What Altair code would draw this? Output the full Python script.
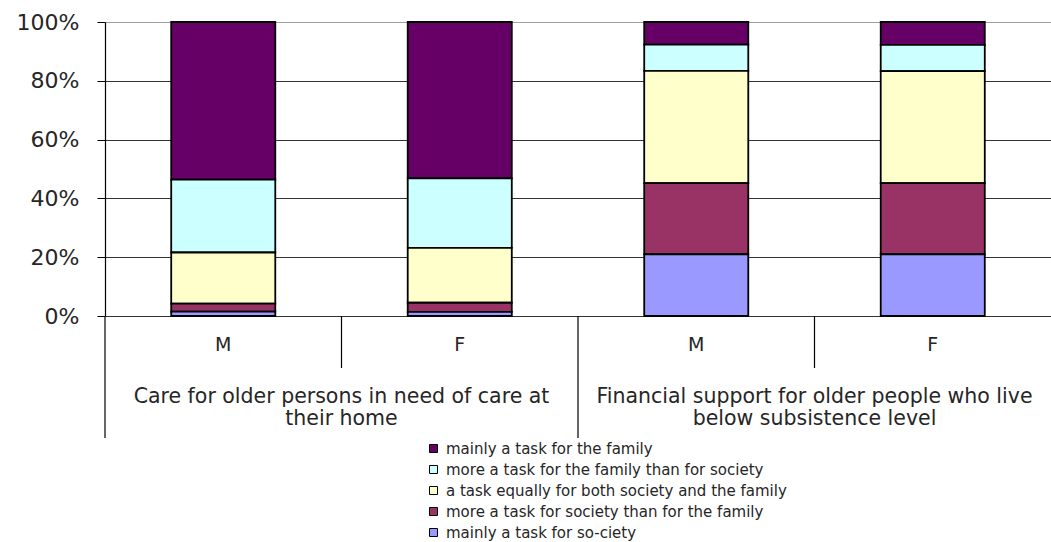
import altair as alt
import pandas as pd

# ---- data ----
bar_keys = ["Care-M", "Care-F", "Fin-M", "Fin-F"]
sex_labels = ["M", "F", "M", "F"]
group_labels = [
    "Care for older persons in need of care at\ntheir home",
    "Financial support for older people who live\nbelow subsistence level",
]
answers = [
    "mainly a task for the family",
    "more a task for the family than for society",
    "a task equally for both society and the family",
    "more a task for society than for the family",
    "mainly a task for so-ciety",
]
colors = ["#660066", "#CCFFFF", "#FFFFCC", "#993366", "#9999FF"]

# percentages per answer, one value per bar (Care-M, Care-F, Fin-M, Fin-F)
mainly_family = [53.6, 53.2, 7.7, 7.8]
more_family = [24.8, 23.6, 8.9, 8.9]
equally = [17.4, 18.7, 38.2, 38.1]
more_society = [2.7, 3.1, 24.2, 24.2]
mainly_society = [1.5, 1.4, 21.0, 21.0]

series = [mainly_family, more_family, equally, more_society, mainly_society]
stack_order = [4, 3, 2, 1, 0]  # mainly for society at the bottom

rows = []
for ans, vals, order in zip(answers, series, stack_order):
    for key, v in zip(bar_keys, vals):
        rows.append({"key": key, "answer": ans, "value": v / 100.0, "order": order})
bars_df = pd.DataFrame(rows)

sex_df = pd.DataFrame({"pos": [0.5, 1.5, 2.5, 3.5], "label": sex_labels})
group_df = pd.DataFrame({"pos": [1.0, 3.0], "label": group_labels})
short_div = pd.DataFrame({"pos": [1.0, 3.0]})
long_div = pd.DataFrame({"pos": [0.0, 2.0]})

W, H = 946, 294
FONT = "DejaVu Sans"
TEXT = "#262626"

bars = alt.Chart(bars_df).mark_bar(stroke="black", strokeWidth=1.8).encode(
    x=alt.X("key:N", sort=bar_keys, axis=None,
            scale=alt.Scale(paddingInner=0.56, paddingOuter=0.28)),
    y=alt.Y("value:Q", stack="zero",
            scale=alt.Scale(domain=[0, 1], nice=False),
            axis=alt.Axis(values=[0, 0.2, 0.4, 0.6, 0.8, 1.0], format=".0%",
                          title=None, labelFont=FONT, labelFontSize=22,
                          labelColor=TEXT, tickColor="black", tickSize=8,
                          labelPadding=18, domainColor="black", domainWidth=1.2,
                          grid=True, gridWidth=1.2,
                          gridColor={"condition": {"test": "datum.value >= 1", "value": "#a0a0a0"},
                                     "value": "#333333"})),
    color=alt.Color("answer:N", scale=alt.Scale(domain=answers, range=colors),
                    legend=alt.Legend(title=None, orient="none", legendX=321, legendY=419,
                                      symbolType="square", symbolSize=64,
                                      symbolStrokeColor="black", symbolStrokeWidth=1,
                                      labelFont=FONT, labelFontSize=15, labelColor=TEXT,
                                      labelOffset=5, rowPadding=5, labelLimit=600)),
    order=alt.Order("order:Q"),
)

xq = alt.X("pos:Q", scale=alt.Scale(domain=[0, 4], nice=False, zero=False), axis=None)

sex_text = alt.Chart(sex_df).mark_text(font=FONT, fontSize=19, color=TEXT,
                                       baseline="middle").encode(
    x=xq, y=alt.value(H + 29), text="label:N")

group_text = alt.Chart(group_df).mark_text(font=FONT, fontSize=20.5, color=TEXT,
                                           baseline="top", lineBreak="\n",
                                           lineHeight=22).encode(
    x=xq, y=alt.value(H + 71), text="label:N")

short_rules = alt.Chart(short_div).mark_rule(color="black", strokeWidth=1.2).encode(
    x=xq, y=alt.value(H), y2=alt.value(H + 52))
long_rules = alt.Chart(long_div).mark_rule(color="black", strokeWidth=1.2).encode(
    x=xq, y=alt.value(H), y2=alt.value(H + 122))

deco = alt.layer(short_rules, long_rules, sex_text, group_text)

chart = alt.layer(bars, deco).resolve_scale(x="independent").properties(
    width=W, height=H,
    autosize=alt.AutoSizeParams(type="none"),
    padding={"left": 105, "top": 22, "right": 0, "bottom": 226},
).configure_view(stroke=None).configure(background="white")

chart.save("out.html", embed_options={"renderer": "svg", "actions": False})
